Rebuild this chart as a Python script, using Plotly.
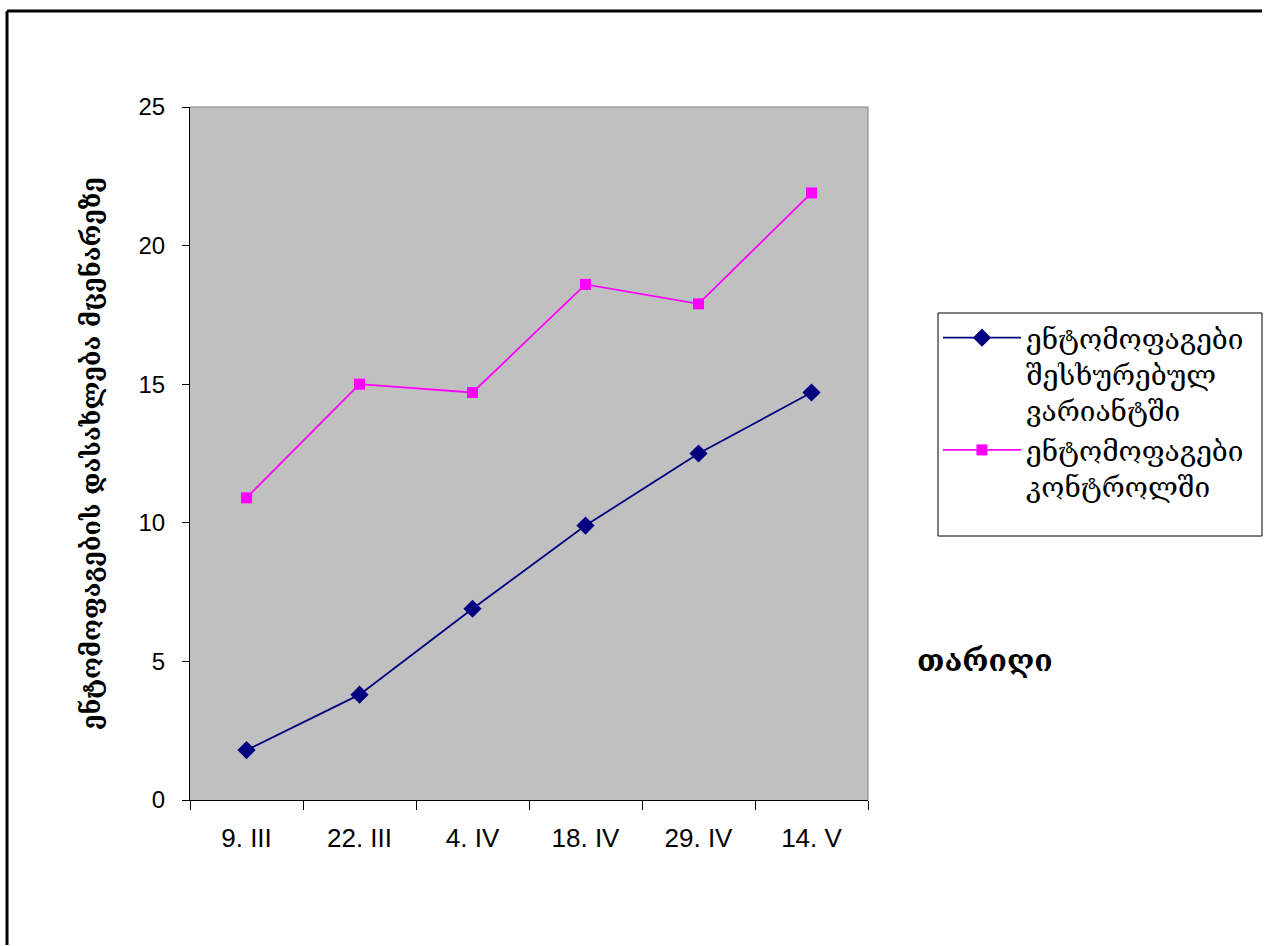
import plotly.graph_objects as go

# Observation dates
dates = ["9. III", "22. III", "4. IV", "18. IV", "29. IV", "14. V"]

# Entomophage counts per plant
sprayed = [1.8, 3.8, 6.9, 9.9, 12.5, 14.7]
control = [10.9, 15.0, 14.7, 18.6, 17.9, 21.9]

sprayed_name = "ენტომოფაგები<br>შესხურებულ<br>ვარიანტში"
control_name = "ენტომოფაგები<br>კონტროლში"
y_title = "ენტომოფაგების დასახლება მცენარეზე"
x_title = "თარიღი"

W, H = 1264, 946
L, R, T, B = 190, 868, 107, 800
pw, ph = R - L, B - T


def px(xp):
    return (xp - L) / pw


def py(yp):
    return (B - yp) / ph


geo_font = "DejaVu Serif"
num_font = "Liberation Sans, Arial"

fig = go.Figure()
fig.add_trace(go.Scatter(
    x=dates, y=sprayed, name=sprayed_name, mode="lines+markers",
    line=dict(color="#000080", width=1.8),
    marker=dict(symbol="diamond", size=14, color="#000080"),
))
fig.add_trace(go.Scatter(
    x=dates, y=control, name=control_name, mode="lines+markers",
    line=dict(color="#FF00FF", width=1.8),
    marker=dict(symbol="square", size=11, color="#FF00FF"),
))

fig.update_layout(
    width=W, height=H,
    margin=dict(l=L, r=W - R, t=T, b=H - B, pad=0),
    paper_bgcolor="white",
    plot_bgcolor="#C0C0C0",
    font=dict(family=num_font, color="black"),
    legend=dict(
        x=px(938), y=py(313), xanchor="left", yanchor="top",
        bgcolor="rgba(0,0,0,0)", borderwidth=0,
        font=dict(family=geo_font, size=28, color="black"),
        itemwidth=78, tracegroupgap=4, valign="top",
    ),
    showlegend=True,
)

fig.update_xaxes(
    type="category", range=[-0.5, 5.5],
    showgrid=False, zeroline=False,
    showline=True, linecolor="black", linewidth=1,
    ticks="outside", tickson="boundaries", ticklen=9, tickcolor="black",
    tickfont=dict(size=26, family=num_font), ticklabelstandoff=15,
)
fig.update_yaxes(
    range=[0, 25], dtick=5,
    showgrid=False, zeroline=False,
    showline=True, linecolor="black", linewidth=1,
    ticks="outside", ticklen=7, tickcolor="black",
    tickfont=dict(size=24, family=num_font), ticklabelstandoff=12,
    title=dict(text="<b>" + y_title + "</b>", font=dict(family=geo_font, size=25), standoff=30),
)

# Plot-area border on top and right
fig.add_shape(type="line", xref="paper", yref="paper", x0=0, x1=1, y0=1, y1=1,
              line=dict(color="#808080", width=1))
fig.add_shape(type="line", xref="paper", yref="paper", x0=1, x1=1, y0=0, y1=1,
              line=dict(color="#808080", width=1))

# Legend box
fig.add_shape(type="rect", xref="paper", yref="paper",
              x0=px(938), x1=px(1262), y0=py(536), y1=py(313),
              line=dict(color="black", width=1), fillcolor="white", layer="below")

# Outer chart frame (left and top edges)
fig.add_shape(type="line", xref="paper", yref="paper",
              x0=px(7), x1=px(7), y0=py(945), y1=py(11),
              line=dict(color="black", width=3))
fig.add_shape(type="line", xref="paper", yref="paper",
              x0=px(7), x1=px(1262), y0=py(11), y1=py(11),
              line=dict(color="black", width=3))

# X axis title
fig.add_annotation(text="<b>" + x_title + "</b>", xref="paper", yref="paper",
                   x=px(985), y=py(660), xanchor="center", yanchor="middle",
                   showarrow=False,
                   font=dict(family=geo_font, size=30, color="black"))

fig.write_html("out.html")
